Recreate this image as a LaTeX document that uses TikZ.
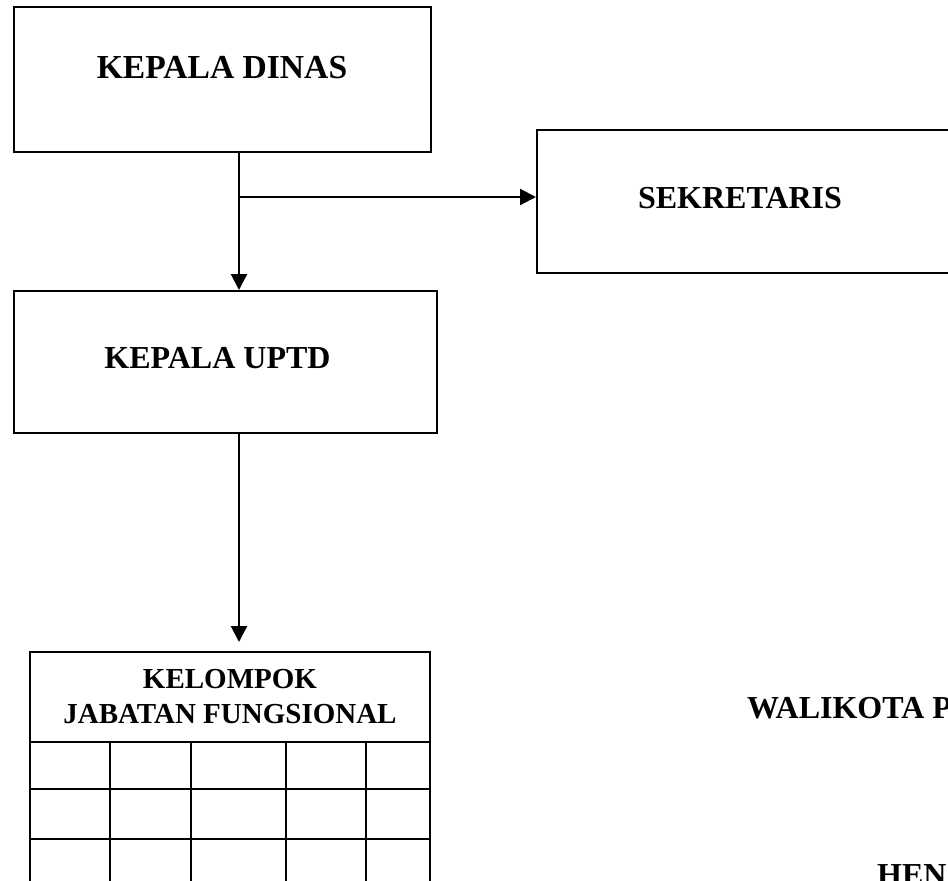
\documentclass[tikz,border=0pt]{standalone}
\usepackage{fontspec}
\setmainfont{Liberation Serif}
\usetikzlibrary{arrows.meta}
\begin{document}
\begin{tikzpicture}[x=1pt,y=-1pt,
  box/.style={draw,line width=2pt,minimum width=#1,inner sep=0pt},
  lbl/.style={font=\fontsize{32}{36}\selectfont\bfseries,inner sep=0pt},
  tlbl/.style={font=\fontsize{29}{35}\selectfont\bfseries,inner sep=0pt,align=center},
  conn/.style={line width=2.2pt,-{Triangle[length=16pt,width=16pt]}}]
\useasboundingbox (0,0) rectangle (948,881);
\clip (0,0) rectangle (948,881);
\fill[white] (0,0) rectangle (948,881);
% boxes
\node[box=417pt,minimum height=145pt] (kd) at (222.5,79.5) {};
\node[box=423pt,minimum height=143pt] (sek) at (748.5,201.5) {};
\node[box=423pt,minimum height=142pt] (uptd) at (225.5,362) {};
\node[box=400pt,minimum height=248pt] (tbl) at (230,776) {};
% texts
\node[lbl,font=\fontsize{33.6}{38}\selectfont\bfseries] (tkd) at (222,68) {KEPALA DINAS};
\node[lbl] (tsek) at (740,198) {SEKRETARIS};
\node[lbl] (tuptd) at (217.5,358) {KEPALA UPTD};
\node[tlbl] (ttbl) at (230,697) {KELOMPOK\\JABATAN FUNGSIONAL};
\node[lbl,anchor=base west] (wk) at (747,718) {WALIKOTA P};
\node[lbl,anchor=base west] (hen) at (877,885) {HEN};
% table grid
\draw[line width=1.6pt] (tbl.west |- 0,742) -- (tbl.east |- 0,742);
\draw[line width=1.6pt] (tbl.west |- 0,789) -- (tbl.east |- 0,789);
\draw[line width=1.6pt] (tbl.west |- 0,839) -- (tbl.east |- 0,839);
\foreach \cx in {110,191,286,366}{
  \draw[line width=1.6pt] (\cx,742) -- (\cx,900);
}
% connectors
\coordinate (j) at (239,197);
\draw[conn] (kd.south -| j) -- (j |- uptd.north);
\draw[conn] (j) -- (j -| sek.west);
\draw[conn,shorten >=9pt] (j |- uptd.south) -- (j |- tbl.north);
\end{tikzpicture}
\end{document}
